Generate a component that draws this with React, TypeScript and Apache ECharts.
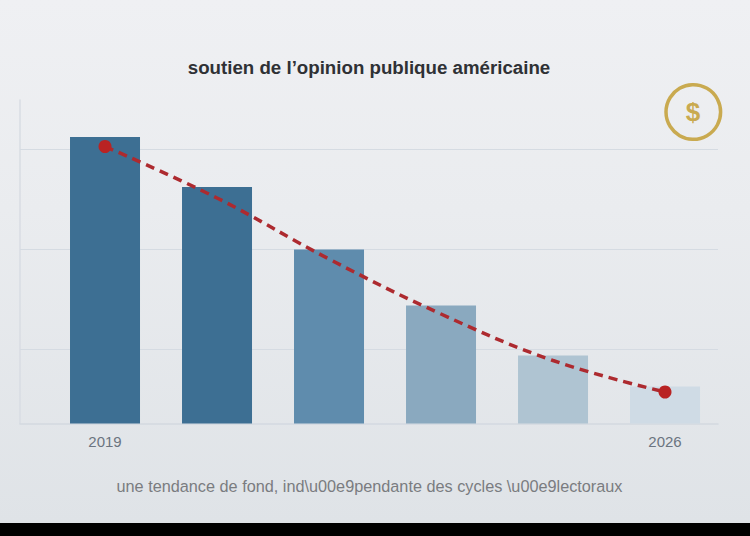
import React, { useEffect, useRef } from "react";
import * as echarts from "echarts";

const yearLabels: Record<number, string> = { 0: "2019", 5: "2026" };
const positions = [0, 1, 2, 3, 4, 5];
const barValues = [62.4, 52.4, 39.9, 28.7, 18.7, 12.5];
const barColors = ["#3d6f93", "#3d6f93", "#5f8cad", "#8aa9bf", "#afc4d2", "#cfdbe5"];
const trendValues = [60.5, 50.2, 38, 27, 17.7, 11.4];
const gridValues = [20, 40, 60];
const TITLE = "soutien de l’opinion publique américaine";
const SUBTITLE = "une tendance de fond, ind\\u00e9pendante des cycles \\u00e9lectoraux";
const FONT = "'Liberation Sans', Arial, sans-serif";

export default function App() {
  const ref = useRef<HTMLDivElement>(null);
  useEffect(() => {
    document.body.style.margin = "0";
    const chart = echarts.init(ref.current!, null, { renderer: "svg" });
    chart.setOption({
      animation: false,
      backgroundColor: "transparent",
      title: [
        { text: TITLE, left: 364, top: 53, textAlign: "center",
          textStyle: { fontFamily: FONT, fontSize: 18.7, fontWeight: "bold", color: "#2f3135" } },
        { text: SUBTITLE, left: 364.5, top: 473, textAlign: "center",
          textStyle: { fontFamily: FONT, fontSize: 16.25, fontWeight: "normal", color: "#7a7c80" } },
      ],
      grid: { left: 20, top: 100, width: 698, height: 323.5 },
      xAxis: {
        type: "value", min: -0.759, max: 5.473,
        splitLine: { show: false },
        axisTick: { show: false },
        axisLine: { show: true, onZero: false, lineStyle: { color: "#d3d9e0", width: 1.5 } },
        axisLabel: {
          show: true, customValues: [0, 5], margin: 10,
          formatter: (v: number) => yearLabels[Math.round(v)] ?? "",
          fontFamily: FONT, fontSize: 15, color: "#6b7480",
        },
      },
      yAxis: {
        type: "value", min: 5.1, max: 69.8,
        splitLine: { show: false },
        axisTick: { show: false },
        axisLabel: { show: false },
        axisLine: { show: true, onZero: false, lineStyle: { color: "#d8dde3", width: 1.5 } },
      },
      series: [
        {
          type: "bar", barWidth: 70, z: 2,
          data: positions.map((x, i) => ({ value: [x, barValues[i]], itemStyle: { color: barColors[i] } })),
          markLine: {
            silent: true, symbol: "none", z: 1, label: { show: false },
            lineStyle: { color: "#d5dbe2", width: 1, type: "solid" },
            data: gridValues.map((v) => ({ yAxis: v })),
          },
        },
        {
          type: "line", smooth: 0.4, z: 5, symbol: "circle", symbolSize: 12,
          lineStyle: { color: "#ad2a2f", width: 3.5, type: [9, 6] },
          itemStyle: { color: "#b92323" },
          data: positions.map((x, i) => ({
            value: [x, trendValues[i]],
            symbolSize: i === 0 || i === positions.length - 1 ? 13 : 0,
          })),
        },
      ],
      graphic: [
        { type: "circle", shape: { cx: 693.3, cy: 112, r: 27.3 },
          style: { fill: "transparent", stroke: "#c9aa50", lineWidth: 3.5 } },
        { type: "text", x: 693, y: 111.5,
          style: { text: "$", fontFamily: FONT, fontSize: 26, fontWeight: "bold", fill: "#c9aa50", align: "center", verticalAlign: "middle" } },
      ],
    });
    return () => chart.dispose();
  }, []);
  return (
    <div style={{ width: 750, height: 536, position: "relative", background: "#000", overflow: "hidden" }}>
      <div style={{ position: "absolute", left: 0, top: 0, width: 750, height: 523, background: "linear-gradient(180deg,#eff0f3 0%,#eaecef 40%,#dfe3e7 100%)" }} />
      <div ref={ref} style={{ position: "absolute", left: 0, top: 0, width: 750, height: 536 }} />
    </div>
  );
}
